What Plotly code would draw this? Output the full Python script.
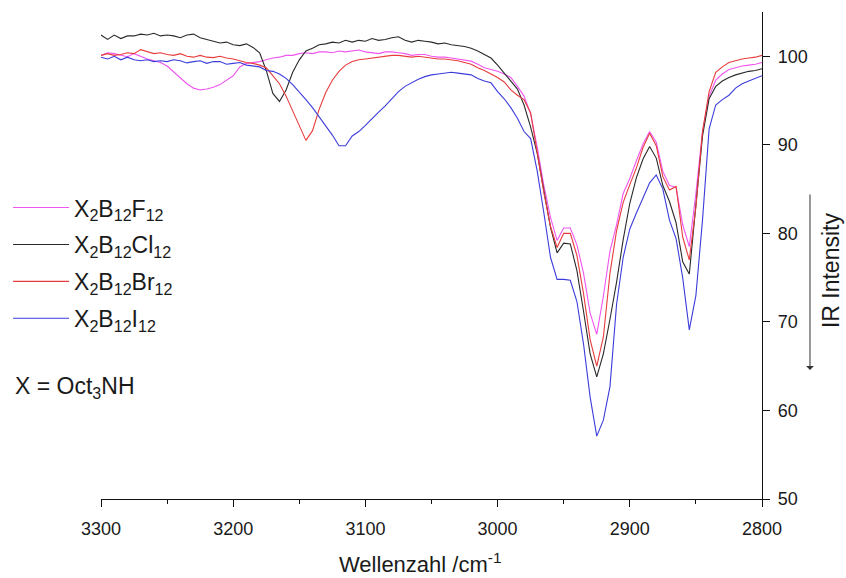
import plotly.graph_objects as go

# Wavenumber grid (cm^-1), shared by all four spectra
wavenumber = list(range(3300, 2795, -5))

# Intensity values (same order as wavenumber)
f12 = [100.1, 100.4, 100.3, 100.1, 99.95, 100.3, 100.0, 99.7, 99.5, 99.3,
       98.9, 98.2, 97.6, 96.9, 96.4, 96.2, 96.3, 96.5, 96.8, 97.3,
       97.8, 98.8, 99.2, 99.3, 99.4, 99.6, 99.8, 99.9, 100.1, 100.1,
       100.3, 100.4, 100.3, 100.5, 100.5, 100.4, 100.6, 100.5, 100.6, 100.7,
       100.5, 100.4, 100.3, 100.5, 100.5, 100.4, 100.3, 100.1, 100.2, 100.2,
       100.0, 99.9, 99.9, 99.8, 99.7, 99.6, 99.45, 99.1, 98.7, 98.5,
       98.3, 98.0, 97.6, 96.6, 95.5, 93.5, 89.7, 85.4, 81.8, 79.2,
       80.6, 80.6, 78.7, 75.5, 71.0, 68.6, 72.9, 78.0, 81.0, 84.5,
       86.2, 88.2, 90.1, 91.5, 90.3, 87.0, 85.4, 85.2, 81.0, 78.5,
       84.5, 91.5, 95.5, 97.3, 98.0, 98.5, 98.7, 98.9, 99.0, 99.1,
       99.3]

cl12 = [102.4, 101.9, 102.4, 102.0, 102.3, 102.3, 102.5, 102.4, 102.6, 102.3,
        102.4, 102.3, 102.1, 102.4, 102.5, 102.1, 101.9, 101.7, 101.5, 101.6,
        101.3, 101.2, 101.4, 101.0, 100.4, 98.4, 95.8, 94.9, 96.2, 98.2,
        99.6, 100.6, 100.9, 101.3, 101.4, 101.6, 101.5, 101.8, 101.6, 101.8,
        101.7, 102.0, 101.8, 101.9, 102.1, 102.2, 101.8, 101.6, 101.8, 101.7,
        101.6, 101.4, 101.5, 101.3, 101.2, 101.1, 100.9, 100.6, 100.2, 99.8,
        99.0, 98.1, 97.2, 96.3, 94.5, 92.0, 89.0, 84.7, 80.7, 77.8,
        78.9, 78.8, 75.8, 71.2, 66.4, 63.8, 66.4, 70.3, 74.5, 79.3,
        83.4, 86.3, 88.4, 89.8, 88.5, 85.4, 83.6, 81.2, 76.8, 75.4,
        83.5, 91.0, 95.2, 96.6, 97.2, 97.6, 97.9, 98.1, 98.3, 98.4,
        98.6]

br12 = [100.1, 100.3, 100.1, 100.2, 100.4, 100.3, 100.75, 100.5, 100.3, 100.4,
        100.2, 100.1, 100.3, 100.0, 99.9, 100.1, 99.9, 99.85, 100.0, 99.8,
        99.7, 99.5, 99.3, 99.2, 99.0, 98.7, 97.8, 96.9, 95.5, 93.8,
        92.2, 90.5, 91.6, 94.0, 95.9, 97.3, 98.3, 99.0, 99.4, 99.6,
        99.7, 99.8, 99.9, 100.0, 100.1, 100.1, 100.0, 99.9, 100.0, 99.9,
        99.8, 99.7, 99.7, 99.6, 99.5, 99.3, 99.1, 98.7, 98.4, 98.0,
        97.6, 97.1, 96.2, 95.6, 95.1, 93.6, 89.0, 84.6, 80.8, 78.4,
        80.0, 80.0, 77.5, 73.2, 68.0, 65.0, 68.3, 75.5, 80.3, 83.5,
        85.5, 87.4, 89.7, 91.3, 89.9, 86.4, 84.9, 85.3, 79.6, 77.0,
        83.0, 91.5, 96.0, 98.2, 98.8, 99.3, 99.5, 99.7, 99.8, 99.9,
        100.1]

i12 = [99.9, 99.7, 100.0, 99.6, 99.9, 99.6, 99.5, 99.6, 99.4, 99.5,
       99.4, 99.6, 99.5, 99.25, 99.4, 99.5, 99.2, 99.4, 99.4, 99.1,
       99.2, 99.3, 99.0, 98.9, 98.8, 98.4, 98.3, 98.0, 97.5, 96.8,
       96.0, 95.1, 94.2, 93.2, 92.2, 91.1, 89.9, 89.9, 91.0, 91.5,
       92.2, 93.0, 93.7, 94.4, 95.2, 96.0, 96.6, 97.0, 97.4, 97.7,
       97.9, 98.0, 98.1, 98.2, 98.1, 98.0, 97.9, 97.5, 97.2, 97.0,
       96.0, 95.2, 94.2, 93.0, 91.5, 90.7, 87.0, 82.3, 77.3, 74.8,
       74.8, 74.7, 72.3, 67.5, 61.5, 57.1, 58.9, 62.7, 72.0, 77.3,
       80.5, 82.3, 84.1, 85.7, 86.6, 85.0, 81.5, 79.4, 75.0, 69.1,
       73.0, 81.5, 91.8, 94.5, 95.1, 95.6, 96.4, 96.9, 97.2, 97.5,
       97.8]

series_names = ["X<sub>2</sub>B<sub>12</sub>F<sub>12</sub>",
                "X<sub>2</sub>B<sub>12</sub>Cl<sub>12</sub>",
                "X<sub>2</sub>B<sub>12</sub>Br<sub>12</sub>",
                "X<sub>2</sub>B<sub>12</sub>I<sub>12</sub>"]
series_values = [f12, cl12, br12, i12]
series_colors = ["#f055f0", "#2a2a2a", "#e83c3c", "#3c3cdc"]

x_ticks = [3300, 3200, 3100, 3000, 2900, 2800]
y_ticks = [50, 60, 70, 80, 90, 100]

FONT = "Arial, Liberation Sans, sans-serif"
TXT = "#1a1a1a"

fig = go.Figure()
for i, (name, vals, col) in enumerate(zip(series_names, series_values, series_colors)):
    fig.add_trace(go.Scatter(x=wavenumber, y=vals, mode="lines", name=name,
                             legendgroup=f"g{i}",
                             line=dict(color=col, width=1.1)))

fig.update_layout(
    width=846, height=578,
    margin=dict(l=101, r=84, t=12, b=79, autoexpand=False),
    paper_bgcolor="white", plot_bgcolor="white",
    font=dict(family=FONT, color=TXT),
    showlegend=True,
    legend=dict(x=0.0095, y=0.678, xanchor="left", yanchor="top",
                xref="container", yref="container",
                font=dict(size=23, color=TXT, family=FONT),
                itemwidth=56, traceorder="grouped", tracegroupgap=4,
                bgcolor="rgba(0,0,0,0)"),
    xaxis=dict(range=[3300, 2800], tickvals=x_ticks, ticks="outside",
               ticklen=7, tickwidth=1.3, tickcolor="#111",
               minor=dict(dtick=50, ticks="outside", ticklen=4, tickwidth=1.2, tickcolor="#111", showgrid=False),
               showline=True, linecolor="#111", linewidth=1.3,
               showgrid=False, zeroline=False,
               ticklabelstandoff=6,
               tickfont=dict(size=18, color=TXT, family=FONT)),
    yaxis=dict(range=[50, 105], tickvals=y_ticks, side="right", ticks="outside",
               ticklen=7, tickwidth=1.3, tickcolor="#111",
               showline=True, linecolor="#111", linewidth=1.3,
               showgrid=False, zeroline=False,
               ticklabelstandoff=4,
               tickfont=dict(size=18, color=TXT, family=FONT)),
)

fig.add_annotation(text="Wellenzahl /cm<sup>-1</sup>", xref="paper", yref="paper",
                   x=0.4826, y=-0.1315, xanchor="center", yanchor="middle",
                   showarrow=False, font=dict(size=22, color=TXT, family=FONT))
fig.add_annotation(text="IR Intensity", xref="paper", yref="paper",
                   x=1.1044, y=0.47, textangle=-90, xanchor="center", yanchor="middle",
                   showarrow=False, font=dict(size=23, color=TXT, family=FONT))
fig.add_annotation(text="", xref="paper", yref="paper", x=1.0726, y=0.2649,
                   showarrow=True, ax=0, ay=-177, arrowhead=1, arrowsize=1.3,
                   arrowwidth=1, arrowcolor="#333")
fig.add_annotation(text="X = Oct<sub>3</sub>NH", xref="paper", yref="paper",
                   x=-0.1331, y=0.228, xanchor="left", yanchor="middle",
                   showarrow=False, font=dict(size=23, color=TXT, family=FONT))

fig.write_html("out.html", config={"displayModeBar": False},
               post_script="document.body.style.margin='0px';document.body.style.padding='0px';")
